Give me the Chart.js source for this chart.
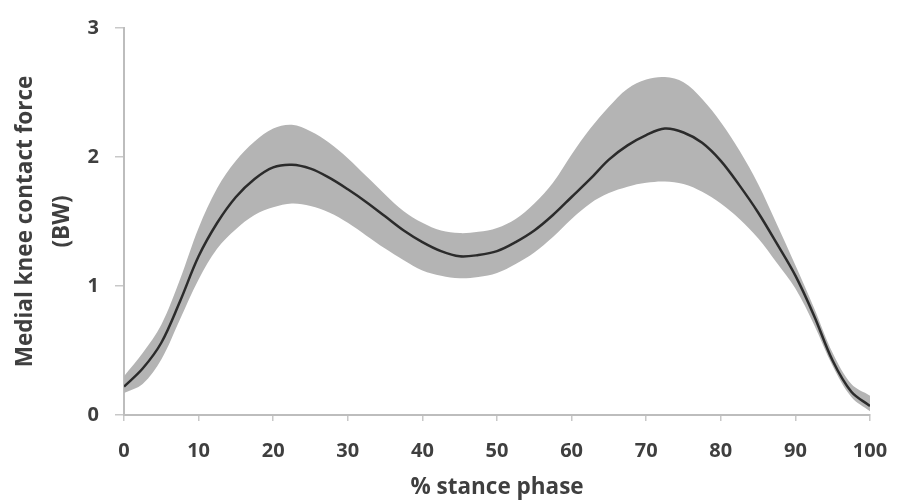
<!DOCTYPE html>
<html>
<head>
<meta charset="utf-8">
<script src="https://cdn.jsdelivr.net/npm/chart.js@4"></script>
<style>
  html, body { margin: 0; padding: 0; background: #ffffff; }
  #wrap { width: 897px; height: 500px; }
</style>
</head>
<body>
<div id="wrap"><canvas id="chart" width="897" height="500"></canvas></div>
<script>
// % of stance phase
const stance = [0, 2.5, 5, 7.5, 10, 12.5, 15, 17.5, 20, 22.5, 25, 27.5, 30, 32.5, 35, 37.5, 40, 42.5, 45, 47.5,
  50, 52.5, 55, 57.5, 60, 62.5, 65, 67.5, 70, 72.5, 75, 77.5, 80, 82.5, 85, 87.5, 90, 92.5, 95, 97.5, 100];

// mean medial knee contact force (BW)
const meanForce = [0.22, 0.36, 0.56, 0.88, 1.23, 1.49, 1.69, 1.83, 1.92, 1.94, 1.91, 1.84, 1.75, 1.65, 1.54, 1.43, 1.34, 1.27, 1.23, 1.24,
  1.27, 1.34, 1.43, 1.55, 1.69, 1.83, 1.98, 2.09, 2.17, 2.22, 2.19, 2.11, 1.97, 1.78, 1.57, 1.33, 1.08, 0.77, 0.42, 0.18, 0.07];

// upper and lower edge of the shaded band (± 1 SD)
const upperForce = [0.30, 0.48, 0.70, 1.05, 1.45, 1.76, 1.97, 2.12, 2.22, 2.25, 2.20, 2.11, 1.99, 1.85, 1.71, 1.58, 1.49, 1.43, 1.41, 1.42,
  1.45, 1.52, 1.64, 1.80, 2.02, 2.22, 2.39, 2.53, 2.60, 2.62, 2.58, 2.45, 2.27, 2.05, 1.79, 1.48, 1.16, 0.83, 0.48, 0.24, 0.15];
const lowerForce = [0.17, 0.24, 0.43, 0.74, 1.05, 1.29, 1.44, 1.55, 1.61, 1.64, 1.62, 1.57, 1.49, 1.39, 1.29, 1.20, 1.12, 1.08, 1.06, 1.07,
  1.10, 1.17, 1.26, 1.38, 1.52, 1.64, 1.72, 1.77, 1.80, 1.81, 1.79, 1.73, 1.64, 1.52, 1.37, 1.18, 0.98, 0.70, 0.38, 0.14, 0.03];

const xTicks = [0, 10, 20, 30, 40, 50, 60, 70, 80, 90, 100];
const yTicks = [0, 1, 2, 3];

const xTitle = '% stance phase';
const yTitle = ['Medial knee contact force', '(BW)'];

const toPoints = (vals) => stance.map((x, i) => ({ x: x, y: vals[i] }));

const textColor = '#3f3f3f';
const axisColor = '#bdbdbd';
const fontFamily = '"Open Sans", "DejaVu Sans", sans-serif';
const curveTension = 0.35;

new Chart(document.getElementById('chart'), {
  type: 'line',
  data: {
    datasets: [
      {
        label: 'mean',
        data: toPoints(meanForce),
        borderColor: '#2b2b2b',
        borderWidth: 2.5,
        pointRadius: 0,
        tension: curveTension,
        fill: false
      },
      {
        label: 'upper',
        data: toPoints(upperForce),
        borderWidth: 0,
        borderColor: 'rgba(0,0,0,0)',
        backgroundColor: '#b4b4b4',
        pointRadius: 0,
        tension: curveTension,
        fill: '+1'
      },
      {
        label: 'lower',
        data: toPoints(lowerForce),
        borderWidth: 0,
        borderColor: 'rgba(0,0,0,0)',
        pointRadius: 0,
        tension: curveTension,
        fill: false
      }
    ]
  },
  options: {
    responsive: false,
    animation: false,
    events: [],
    layout: { padding: { top: 24, right: 27, bottom: 0, left: 0 } },
    plugins: {
      legend: { display: false },
      tooltip: { enabled: false }
    },
    scales: {
      x: {
        type: 'linear',
        min: 0,
        max: 100,
        afterBuildTicks: (scale) => { scale.ticks = xTicks.map(v => ({ value: v })); },
        afterFit: (scale) => {
          scale.height = 85;
          scale.paddingLeft = 0;
          scale.paddingRight = 0;
        },
        border: { display: true, color: axisColor, width: 2 },
        grid: { display: true, drawOnChartArea: false, drawTicks: true, tickLength: 6, color: '#c8c8c8', lineWidth: 1.5 },
        ticks: {
          color: textColor,
          padding: 18,
          maxRotation: 0,
          font: { family: fontFamily, size: 20, weight: 'bold' }
        },
        title: {
          display: true,
          text: xTitle,
          color: textColor,
          padding: { top: 0, bottom: 0 },
          font: { family: fontFamily, size: 22.5, weight: 'bold', lineHeight: '24px' }
        }
      },
      y: {
        type: 'linear',
        min: 0,
        max: 3,
        afterBuildTicks: (scale) => { scale.ticks = yTicks.map(v => ({ value: v })); },
        afterFit: (scale) => { scale.width = 124; },
        border: { display: true, color: axisColor, width: 2 },
        grid: { display: true, drawOnChartArea: false, drawTicks: true, tickLength: 9, color: '#c8c8c8', lineWidth: 1.5 },
        ticks: {
          color: textColor,
          padding: 16,
          font: { family: fontFamily, size: 20, weight: 'bold' }
        },
        title: {
          display: true,
          text: yTitle,
          color: textColor,
          padding: { top: 7, bottom: 0 },
          font: { family: fontFamily, size: 22.5, weight: 'bold', lineHeight: '37px' }
        }
      }
    }
  }
});
</script>
</body>
</html>
